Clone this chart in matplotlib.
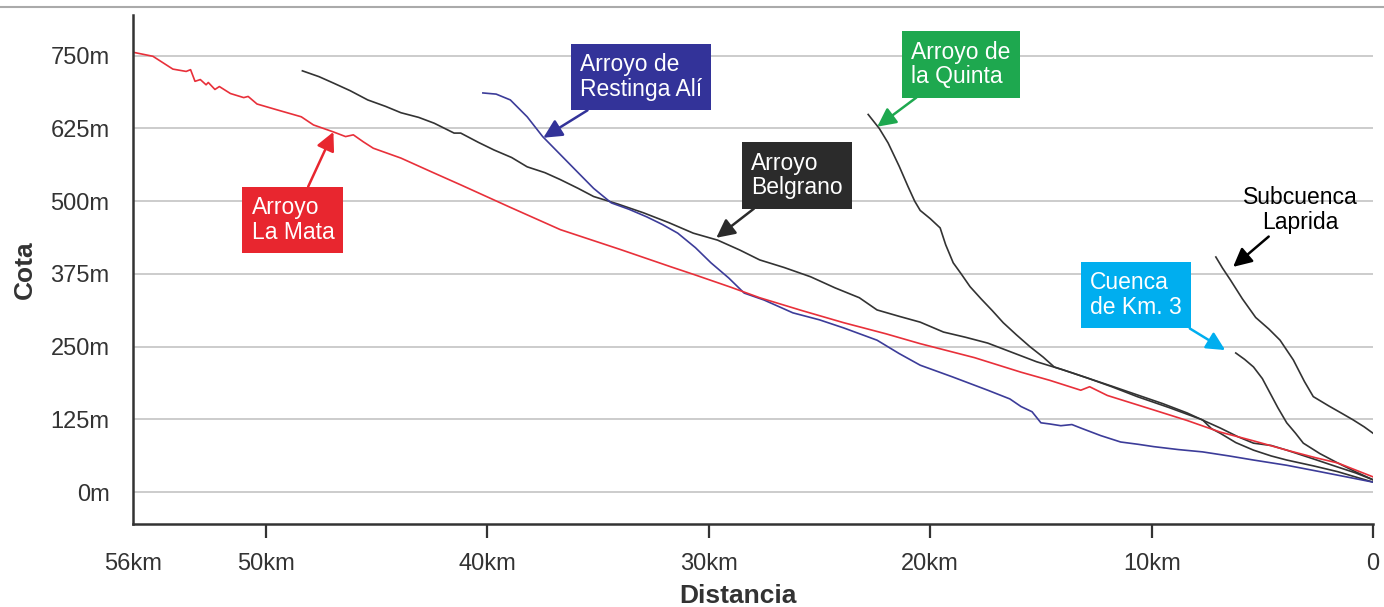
import numpy as np
import matplotlib.pyplot as plt
from matplotlib.lines import Line2D

plt.rcParams['font.family'] = ['Liberation Sans', 'DejaVu Sans']

# perfiles longitudinales: distancia a la desembocadura (km) y cota (m)
mata_km = [56.0, 55.1, 54.2, 53.6, 53.4, 53.2, 52.96, 52.7, 52.6, 52.3, 52.1, 51.6, 51.0,
           50.8, 50.4, 49.5, 48.4, 47.85, 46.95, 46.4, 46.05, 45.6, 45.15, 43.9, 42.5,
           41.2, 39.0, 36.7, 34.0, 31.7, 30.6, 29.0, 27.7, 25.8, 23.9, 22.0, 20.45, 18.0,
           15.9, 14.6, 13.2, 12.8, 12.0, 9.9, 8.4, 6.9, 5.4, 3.9, 2.6, 1.6, 0.8, 0.0]
mata_m = [756, 749, 727, 723, 726, 706, 709, 700, 704, 692, 697, 685, 678,
          680, 667, 657, 645, 631, 619, 611, 614, 602, 591, 574, 550,
          528, 490, 451, 417, 387, 373, 352, 334, 312, 291, 272, 255, 231,
          206, 192, 175, 181, 166, 141, 123, 103, 88, 72, 59, 50, 38, 26]

resting_km = [40.2, 39.6, 38.96, 38.2, 37.5, 36.7, 35.9, 35.2, 34.4, 33.6, 32.8, 32.1, 31.4,
              30.6, 29.9, 29.1, 28.4, 27.5, 26.2, 25.0, 23.9, 22.4, 21.4, 20.45, 19.0, 17.4,
              16.4, 15.9, 15.4, 15.0, 14.6, 14.1, 13.6, 13.2, 12.3, 11.4, 10.6, 9.9, 8.8,
              7.7, 6.5, 5.4, 3.9, 2.4, 1.2, 0.0]
resting_m = [686, 684, 674, 645, 611, 580, 549, 522, 497, 486, 473, 460, 445,
             420, 394, 368, 342, 330, 308, 296, 282, 261, 238, 218, 198, 175,
             160, 147, 138, 119, 117, 114, 116, 110, 97, 86, 82, 78, 73,
             69, 62, 55, 46, 35, 26, 17]

belgrano_km = [48.35, 47.6, 46.95, 46.2, 45.4, 44.6, 43.9, 43.1, 42.4, 41.5, 41.2, 40.4, 39.7,
               38.9, 38.2, 37.4, 36.7, 35.9, 35.2, 34.1, 32.95, 31.8, 30.7, 29.6, 28.6, 27.7,
               26.6, 25.4, 24.3, 23.2, 22.4, 21.4, 20.45, 19.4, 18.4, 17.4, 16.3, 15.2, 14.0,
               12.9, 11.8, 10.65, 9.5, 8.4, 7.6, 6.9, 6.1, 5.4, 4.6, 3.9, 2.7, 1.6, 0.8, 0.0]
belgrano_m = [724, 714, 703, 690, 674, 663, 652, 644, 634, 617, 617, 601, 588,
              575, 559, 549, 537, 522, 508, 495, 480, 463, 445, 433, 416, 399,
              386, 370, 351, 334, 313, 302, 292, 275, 266, 256, 240, 224, 210,
              196, 182, 167, 152, 136, 122, 110, 95, 84, 80, 72, 57, 43, 33, 21]

quinta_km = [22.8, 22.3, 21.9, 21.4, 21.0, 20.7, 20.45, 20.0, 19.55, 19.3, 18.96, 18.6, 18.2,
             17.7, 17.2, 16.7, 16.1, 15.5, 14.9, 14.4, 13.6, 12.9, 11.8, 10.65, 9.2, 7.7,
             7.3, 6.9, 6.2, 5.4, 4.6, 3.9, 2.7, 1.6, 0.8, 0.0]
quinta_m = [649, 625, 600, 560, 525, 500, 484, 470, 454, 425, 394, 375, 353,
            332, 312, 291, 270, 250, 232, 215, 205, 196, 181, 164, 145, 124,
            109, 101, 85, 72, 62, 55, 45, 35, 26, 17]

km3_km = [6.2, 5.8, 5.4, 5.0, 4.65, 4.3, 3.9, 3.5, 3.15, 2.4, 1.6, 0.8, 0.0]
km3_m = [239, 228, 215, 195, 170, 145, 119, 101, 84, 66, 50, 35, 21]

laprida_km = [7.1, 6.8, 6.45, 5.9, 5.3, 4.7, 4.2, 3.6, 3.1, 2.7, 2.0, 1.4, 0.9, 0.4, 0.0]
laprida_m = [404, 385, 365, 332, 300, 280, 261, 227, 190, 164, 148, 135, 124, 112, 101]

x_ticks = [56, 50, 40, 30, 20, 10, 0]
x_labels = ['56km', '50km', '40km', '30km', '20km', '10km', '0']
y_ticks = [0, 125, 250, 375, 500, 625, 750]
y_labels = ['0m', '125m', '250m', '375m', '500m', '625m', '750m']

fig = plt.figure(figsize=(13.84, 6.07), dpi=100)
ax = fig.add_axes([0.0961, 0.1367, 0.8960, 0.8386])

dark = '#333333'
red = '#e8303a'
blue = '#3c3c99'

ax.plot(belgrano_km, belgrano_m, color=dark, lw=1.2)
ax.plot(quinta_km, quinta_m, color=dark, lw=1.2)
ax.plot(km3_km, km3_m, color=dark, lw=1.2)
ax.plot(laprida_km, laprida_m, color=dark, lw=1.2)
ax.plot(resting_km, resting_m, color=blue, lw=1.2)
ax.plot(mata_km, mata_m, color=red, lw=1.2)

ax.set_xlim(56, 0)
ax.set_ylim(-55, 820)
ax.set_xticks(x_ticks)
ax.set_xticklabels(x_labels)
ax.set_yticks(y_ticks)
ax.set_yticklabels(y_labels)
ax.tick_params(axis='x', length=10, width=1.6, color=dark, labelsize=17,
               labelcolor=dark, pad=11)
ax.tick_params(axis='y', length=0, labelsize=17, labelcolor=dark, pad=17)
ax.xaxis.get_major_ticks()[0].tick1line.set_visible(False)

ax.grid(axis='y', color='#c8c8c8', lw=1.3)
ax.set_axisbelow(True)
for s in ['top', 'right']:
    ax.spines[s].set_visible(False)
for s in ['left', 'bottom']:
    ax.spines[s].set_color(dark)
    ax.spines[s].set_linewidth(1.8)

ax.set_xlabel('Distancia', fontsize=19, fontweight='bold', color=dark, va='center')
ax.xaxis.set_label_coords(0.488, -0.141)
ax.set_ylabel('Cota', fontsize=19, fontweight='bold', color=dark, va='center')
ax.yaxis.set_label_coords(-0.087, 0.5)

def label(text, xy, xytext, face, ha='center'):
    bbox = None
    tcolor = 'black'
    if face is not None:
        bbox = dict(boxstyle='square,pad=0.4', fc=face, ec='none')
        tcolor = 'white'
    arrow_col = face if face is not None else 'black'
    ax.annotate(text, xy=xy, xytext=xytext, ha='center', va='center',
                multialignment=ha, fontsize=16.5, color=tcolor, linespacing=1.1,
                bbox=bbox,
                arrowprops=dict(arrowstyle='-|>', color=arrow_col, lw=1.8,
                                mutation_scale=28, shrinkA=0, shrinkB=0))

label('Arroyo\nLa Mata', (46.95, 619), (48.78, 468), '#e8262f', ha='left')
label('Arroyo de\nRestinga Alí', (37.47, 609), (33.07, 713), '#333399', ha='left')
label('Arroyo\nBelgrano', (29.66, 437), (26.03, 544), '#2b2b2b', ha='left')
label('Arroyo de\nla Quinta', (22.39, 628), (18.62, 735), '#1ea84f', ha='left')
label('Cuenca\nde Km. 3', (6.68, 244), (10.72, 338), '#00aeef', ha='left')
label('Subcuenca\nLaprida', (6.32, 387), (3.3, 485), None, ha='center')

# filete gris superior
fig.add_artist(Line2D([0, 1], [0.989, 0.989], color='#aaaaaa', lw=1.5,
                      transform=fig.transFigure))

fig.savefig('out.png', dpi=100)
